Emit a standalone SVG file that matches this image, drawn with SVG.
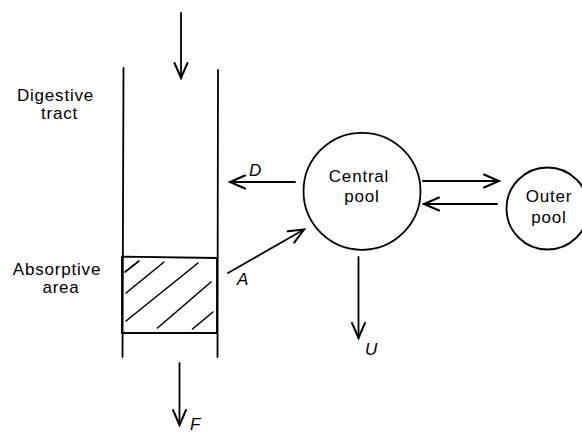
<svg xmlns="http://www.w3.org/2000/svg" width="582" height="436" viewBox="0 0 582 436">
  <style>
    .ln { stroke: #000; stroke-width: 1.8; fill: none; stroke-linecap: round; }
    .hatch { stroke: #000; stroke-width: 1.6; fill: none; stroke-linecap: round; }
    .lbl { font-family: "Liberation Sans", Arial, sans-serif; font-size: 17px; letter-spacing: 0.8px; text-anchor: middle; fill: #000; }
    .var { font-family: "Liberation Sans", Arial, sans-serif; font-size: 17px; font-style: italic; fill: #000; }
    .arr { marker-end: url(#head); }
  </style>
  <defs>
    <marker id="head" markerUnits="userSpaceOnUse" markerWidth="20" markerHeight="16" refX="0" refY="0" viewBox="-17 -8 19 16" orient="auto" overflow="visible">
      <path d="M-15,-6.5 L0,0 L-15,6.5" fill="none" stroke="#000" stroke-width="2" stroke-linecap="round" stroke-linejoin="miter"/>
    </marker>
  </defs>
  <rect width="582" height="436" fill="#fff"/>

  <g id="digestive-tract">
    <line class="ln" x1="123.5" y1="68" x2="122.5" y2="357"/>
    <line class="ln" x1="218" y1="70" x2="217.5" y2="357"/>
    <text class="lbl" x="55.5" y="101">Digestive</text>
    <text class="lbl" x="59.5" y="119">tract</text>
  </g>

  <g id="absorptive-area">
    <path class="ln" d="M122,256.7 L217,258 L217,333 L122,333 Z"/>
    <line class="hatch" x1="125" y1="272" x2="139" y2="261"/>
    <line class="hatch" x1="126" y1="293" x2="164" y2="262"/>
    <line class="hatch" x1="126" y1="321" x2="198" y2="263"/>
    <line class="hatch" x1="157.5" y1="328" x2="211" y2="282"/>
    <line class="hatch" x1="192.5" y1="329" x2="213" y2="312"/>
    <text class="lbl" x="57" y="275">Absorptive</text>
    <text class="lbl" x="61" y="293">area</text>
  </g>

  <g id="central-pool">
    <circle class="ln" cx="362" cy="191.3" r="58.5"/>
    <text class="lbl" x="359" y="182">Central</text>
    <text class="lbl" x="362" y="202">pool</text>
  </g>

  <g id="outer-pool">
    <circle class="ln" cx="547.5" cy="208.5" r="41"/>
    <text class="lbl" x="549" y="202">Outer</text>
    <text class="lbl" x="549" y="223">pool</text>
  </g>

  <g id="connectors">
    <line class="ln arr" x1="181" y1="13" x2="181" y2="78"/>
    <line class="ln arr" x1="295" y1="182" x2="230" y2="182"/>
    <line class="ln arr" x1="228" y1="273" x2="304" y2="229.5"/>
    <line class="ln arr" x1="423" y1="181" x2="499" y2="181"/>
    <line class="ln arr" x1="497" y1="204" x2="424" y2="204"/>
    <line class="ln arr" x1="358.5" y1="257" x2="358.5" y2="338"/>
    <line class="ln arr" x1="179.5" y1="363" x2="179.5" y2="425"/>
    <text class="var" x="190" y="430">F</text>
    <text class="var" x="249" y="176">D</text>
    <text class="var" x="237" y="285">A</text>
    <text class="var" x="365" y="355">U</text>
  </g>
</svg>
